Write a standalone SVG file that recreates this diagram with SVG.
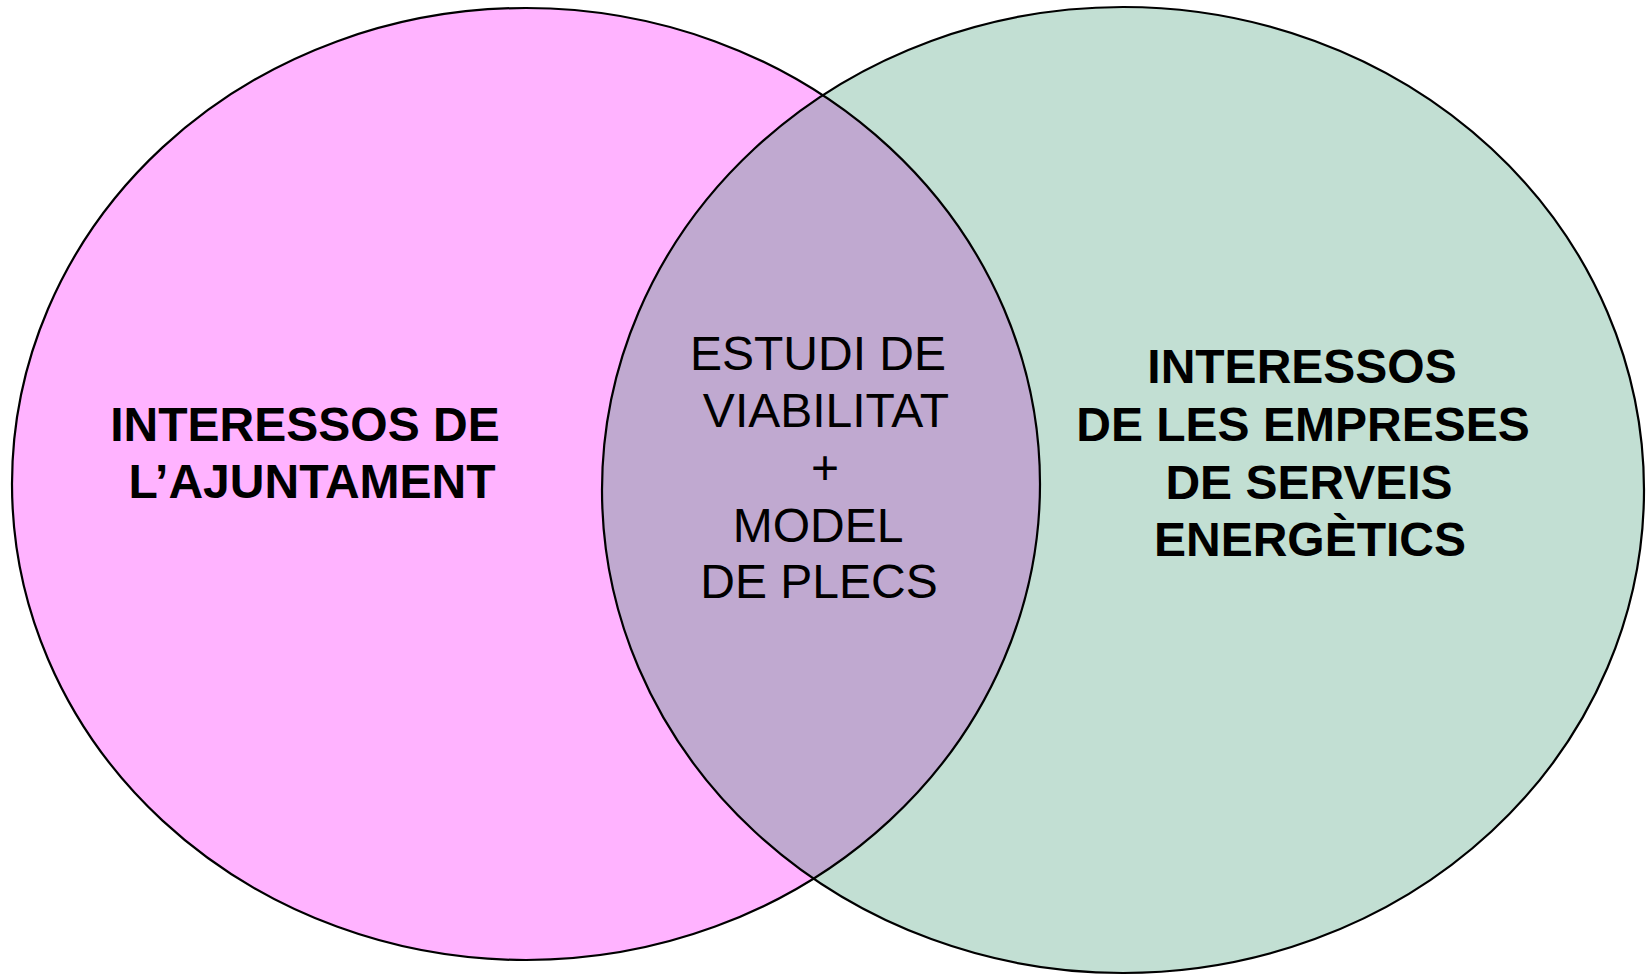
<svg xmlns="http://www.w3.org/2000/svg" width="1646" height="976" viewBox="0 0 1646 976">
<style>
.b{font-family:"Liberation Sans",Arial,sans-serif;font-weight:bold;font-size:48px;fill:#000;text-anchor:middle}
.r{font-family:"Liberation Sans",Arial,sans-serif;font-size:48px;fill:#000;text-anchor:middle}
.edge{fill:none;stroke:#000;stroke-width:2.2}
</style>
<defs>
<clipPath id="clipL"><ellipse cx="526" cy="484" rx="514" ry="476"/></clipPath>
</defs>
<rect width="1646" height="976" fill="#fff"/>
<g id="left">
<ellipse cx="526" cy="484" rx="514" ry="476" fill="#FFB3FF"/>
</g>
<g id="right">
<ellipse cx="1123" cy="490" rx="521" ry="483" fill="#C2DFD3"/>
</g>
<g id="overlap">
<ellipse cx="1123" cy="490" rx="521" ry="483" fill="#C0A9D0" clip-path="url(#clipL)"/>
</g>
<g id="outlines">
<ellipse class="edge" cx="526" cy="484" rx="514" ry="476"/>
<ellipse class="edge" cx="1123" cy="490" rx="521" ry="483"/>
</g>
<g id="label-left">
<text class="b" x="305" y="441">INTERESSOS DE</text>
<text class="b" x="312" y="498">L’AJUNTAMENT</text>
</g>
<g id="label-center">
<text class="r" x="818" y="370">ESTUDI DE</text>
<text class="r" x="826" y="427">VIABILITAT</text>
<text class="r" x="825" y="484">+</text>
<text class="r" x="818" y="542">MODEL</text>
<text class="r" x="819" y="598">DE PLECS</text>
</g>
<g id="label-right">
<text class="b" x="1302" y="383">INTERESSOS</text>
<text class="b" x="1303" y="441">DE LES EMPRESES</text>
<text class="b" x="1309" y="499">DE SERVEIS</text>
<text class="b" x="1310" y="556">ENERGÈTICS</text>
</g>
</svg>
